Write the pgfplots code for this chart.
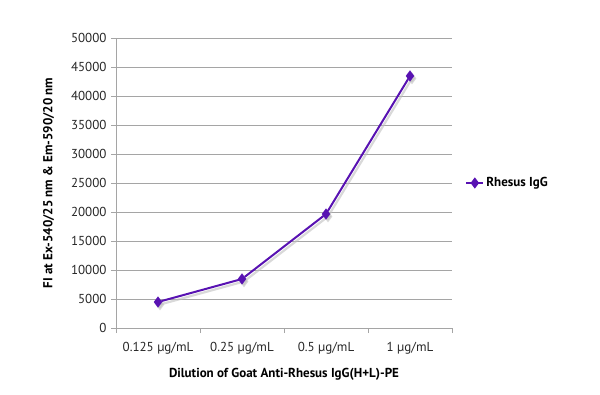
\documentclass[border=0pt]{standalone}
\usepackage{pgfplots}
\pgfplotsset{compat=1.18}
\usepackage{fontspec}
\setmainfont{PT Sans}
\definecolor{lineP}{RGB}{88,18,178}
\definecolor{gridG}{RGB}{165,165,165}
\begin{document}
\begin{tikzpicture}[x=1pt,y=1pt]
\useasboundingbox (0,0) rectangle (600,394);
\begin{axis}[
  at={(116pt,66pt)}, anchor=south west,
  scale only axis, width=336pt, height=290pt,
  xmin=-0.5, xmax=3.5, ymin=0, ymax=50000,
  xtick={0,1,2,3}, xticklabels={0.125 µg/mL,0.25 µg/mL,0.5 µg/mL,1 µg/mL},
  minor xtick={-0.5,0.5,1.5,2.5,3.5},
  major x tick style={draw=none},
  minor x tick style={draw=gridG, line width=0.8pt},
  ytick={0,5000,...,50000},
  scaled y ticks=false,
  yticklabel style={/pgf/number format/1000 sep={}, xshift=-1pt},
  /pgf/number format/assume math mode=true,
  ymajorgrids, grid style={gridG, line width=0.8pt},
  axis x line*=bottom, axis y line*=left,
  axis line style={gridG, line width=0.8pt},
  tick align=outside, tick pos=left,
  major tick length=5pt, minor tick length=5pt,
  ytick style={draw=gridG, line width=0.8pt},
  ticklabel style={font=\fontsize{13}{15}\selectfont, text=black!85},
  xticklabel style={yshift=-6pt},
  xlabel={\bfseries Dilution of Goat Anti-Rhesus IgG(H+L)-PE},
  ylabel={\bfseries FI at Ex-540/25 nm \& Em-590/20 nm},
  label style={font=\fontsize{13}{15}\selectfont},
  xlabel style={yshift=-7pt},
  ylabel style={yshift=10pt},
  legend style={at={(1.03,0.5)}, anchor=west, draw=none, fill=none, font=\fontsize{13}{15}\selectfont\bfseries},
  legend cell align=left,
  clip=false,
]
\addplot[black!25, line width=2.2pt, mark=diamond*, mark size=4pt, xshift=2pt, yshift=-2.5pt, opacity=0.6, forget plot]
  coordinates {(0,4480) (1,8450) (2,19650) (3,43450)};
\addplot[lineP, line width=2pt, mark=diamond*, mark size=4pt, mark options={fill=lineP}]
  coordinates {(0,4480) (1,8450) (2,19650) (3,43450)};
\addlegendentry{Rhesus IgG}
\end{axis}
\end{tikzpicture}
\end{document}
